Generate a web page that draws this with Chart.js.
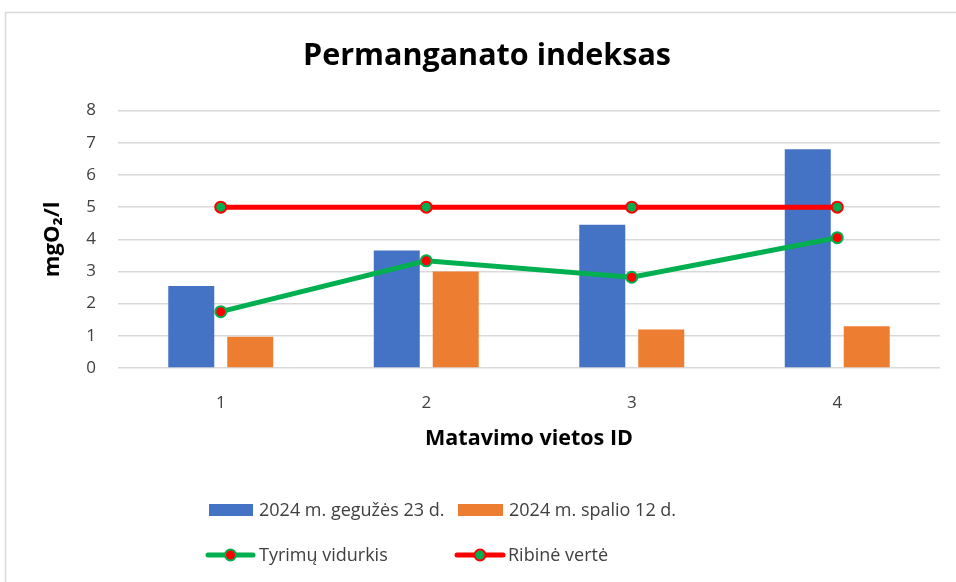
<!DOCTYPE html>
<html>
<head>
<meta charset="utf-8">
<script src="https://cdn.jsdelivr.net/npm/chart.js@4.4.0/dist/chart.umd.min.js"></script>
<style>
  html, body { margin: 0; padding: 0; background: #ffffff; }
  #wrap { width: 956px; height: 582px; position: relative; }
</style>
</head>
<body>
<div id="wrap"><canvas id="chart" width="956" height="582"></canvas></div>
<script>
// Measurement sites and the permanganate index values (mgO2/l)
const categories = ['1', '2', '3', '4'];
const may23 = [2.55, 3.65, 4.45, 6.8];
const oct12 = [0.97, 3.0, 1.2, 1.3];
const average = [1.75, 3.33, 2.82, 4.05];
const limitValue = [5, 5, 5, 5];
const seriesNames = ['2024 m. gegužės 23 d.', '2024 m. spalio 12 d.', 'Tyrimų vidurkis', 'Ribinė vertė'];
const yMin = 0, yMax = 8, yStep = 1;

const FONT = "'Open Sans', Lato, sans-serif";
const BLUE = '#4472C4', ORANGE = '#ED7D31', GREEN = '#00B050', RED = '#FF0000';
const TEXT = '#404040';

// Outer frame and white background
const framePlugin = {
  id: 'frame',
  beforeDraw(chart) {
    const c = chart.ctx;
    c.save();
    c.fillStyle = '#ffffff';
    c.fillRect(0, 0, chart.width, chart.height);
    c.strokeStyle = '#D9D9D9';
    c.lineWidth = 1.5;
    c.strokeRect(5.5, 12.5, chart.width + 20, chart.height + 20);
    c.restore();
  }
};

// Two-row legend below the x axis title
const legendPlugin = {
  id: 'gridLegend',
  afterDraw(chart) {
    const c = chart.ctx;
    const slots = [
      { x: 209, y: 510, w: 44, tx: 259 },
      { x: 458, y: 510, w: 45, tx: 509 },
      { x: 208, y: 555, w: 45, tx: 259 },
      { x: 457, y: 555, w: 46, tx: 508 }
    ];
    c.save();
    c.font = '18px ' + FONT;
    c.textBaseline = 'middle';
    c.textAlign = 'left';
    chart.data.datasets.forEach((ds, i) => {
      const s = slots[i];
      if (ds.type === 'bar') {
        c.fillStyle = ds.backgroundColor;
        c.fillRect(s.x, s.y - 6, s.w, 12);
      } else {
        c.strokeStyle = ds.borderColor;
        c.lineWidth = ds.borderWidth;
        c.lineCap = 'round';
        c.beginPath();
        c.moveTo(s.x, s.y);
        c.lineTo(s.x + s.w, s.y);
        c.stroke();
        c.beginPath();
        c.arc(s.x + s.w / 2, s.y, ds.pointRadius, 0, Math.PI * 2);
        c.fillStyle = ds.pointBackgroundColor;
        c.fill();
        c.lineWidth = ds.pointBorderWidth;
        c.strokeStyle = ds.pointBorderColor;
        c.stroke();
      }
      c.fillStyle = TEXT;
      c.fillText(ds.label, s.tx, s.y + 1);
    });
    c.restore();
  }
};

new Chart(document.getElementById('chart'), {
  data: {
    labels: categories,
    datasets: [
      { type: 'bar', label: seriesNames[0], data: may23, backgroundColor: BLUE,
        order: 2, barPercentage: 0.78, categoryPercentage: 0.574 },
      { type: 'bar', label: seriesNames[1], data: oct12, backgroundColor: ORANGE,
        order: 3, barPercentage: 0.78, categoryPercentage: 0.574 },
      { type: 'line', label: seriesNames[2], data: average, borderColor: GREEN, borderWidth: 5,
        pointRadius: 5.5, pointBackgroundColor: RED, pointBorderColor: GREEN, pointBorderWidth: 2,
        tension: 0, order: 1 },
      { type: 'line', label: seriesNames[3], data: limitValue, borderColor: RED, borderWidth: 5,
        pointRadius: 5.5, pointBackgroundColor: GREEN, pointBorderColor: RED, pointBorderWidth: 2,
        tension: 0, order: 0 }
    ]
  },
  options: {
    responsive: false,
    animation: false,
    devicePixelRatio: 1,
    layout: { padding: { left: 34, right: 16, top: 38, bottom: 124 } },
    plugins: {
      legend: { display: false },
      tooltip: { enabled: false },
      title: {
        display: true,
        text: 'Permanganato indeksas',
        color: '#000000',
        font: { family: FONT, size: 30.5, weight: 'bold' },
        padding: { top: 0, bottom: 36 }
      }
    },
    scales: {
      x: {
        offset: true,
        grid: { display: false },
        border: { display: false },
        ticks: { color: TEXT, font: { family: FONT, size: 17 }, padding: 17 },
        title: {
          display: true, text: 'Matavimo vietos ID', color: '#000000',
          font: { family: FONT, size: 21.5, weight: 'bold' },
          padding: { top: 0, bottom: 6 }
        },
        afterFit(scale) { scale.height = 90; }
      },
      y: {
        min: yMin, max: yMax,
        grid: { color: '#D9D9D9', lineWidth: 1.5, drawTicks: false },
        border: { display: false },
        ticks: { stepSize: yStep, color: TEXT, font: { family: FONT, size: 17 }, padding: 22 },
        title: {
          display: true, text: 'mgO₂/l', color: '#000000',
          font: { family: FONT, size: 22, weight: 'bold' },
          padding: { top: 6, bottom: 0 }
        },
        afterFit(scale) { scale.width = 84; }
      }
    }
  },
  plugins: [framePlugin, legendPlugin]
});
</script>
</body>
</html>
